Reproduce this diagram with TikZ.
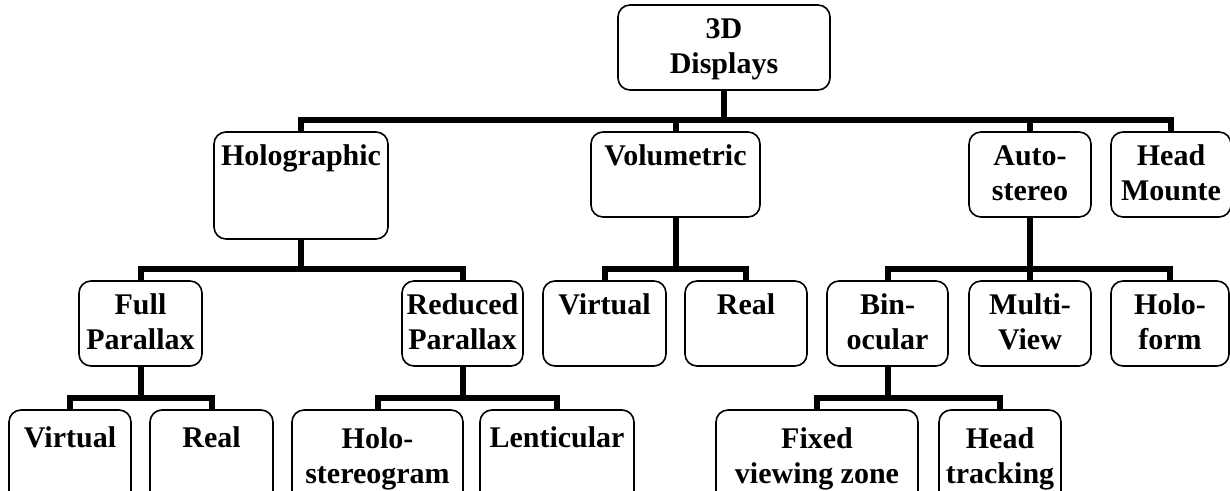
\documentclass[tikz,border=0pt]{standalone}
\usepackage{fontspec}
\setmainfont{Liberation Serif}
\tikzstyle{category}=[draw, line width=1.6pt, rounded corners=12pt, anchor=north,
  align=center, inner sep=0pt, outer sep=0pt, text height=33pt, text depth=52pt,
  font=\fontsize{30}{35}\selectfont\bfseries]
\tikzstyle{twolines}=[text height=68pt, text depth=17pt]
\tikzstyle{leaf}=[category, text height=37pt, text depth=63pt]
\tikzstyle{twoleaf}=[category, text height=73pt, text depth=27pt]
\tikzstyle{branch}=[line width=6pt]

\begin{document}
\begin{tikzpicture}[x=1pt, y=1pt]
  \useasboundingbox (0,0) rectangle (1230,-490);
  \clip (0,0) rectangle (1230,-490);
  % root and first level
  \node[category, twolines, minimum width=212pt] (displays) at (724,-5) {3D\\Displays};
  \node[category, minimum width=174pt, text depth=74pt] (holo) at (301,-132) {Holographic};
  \node[category, minimum width=169pt] (volu) at (675.5,-132) {Volumetric};
  \node[category, twolines, minimum width=122pt] (auto) at (1030,-132) {Auto-\\stereo};
  \node[category, twolines, minimum width=120pt] (hmd) at (1171,-132) {Head\\Mounte};
  % second level
  \node[category, twolines, minimum width=123pt] (full) at (140.5,-281) {Full\\Parallax};
  \node[category, twolines, minimum width=121pt] (reduced) at (462.5,-281) {Reduced\\Parallax};
  \node[category, minimum width=123pt] (vvirtual) at (604.5,-281) {Virtual};
  \node[category, minimum width=122pt] (vreal) at (746,-281) {Real};
  \node[category, twolines, minimum width=121pt] (binocular) at (887.5,-281) {Bin-\\ocular};
  \node[category, twolines, minimum width=122pt] (multiview) at (1030,-281) {Multi-\\View};
  \node[category, twolines, minimum width=118pt] (holoform) at (1170,-281) {Holo-\\form};
  % third level
  \node[leaf, minimum width=122pt] (fvirtual) at (70,-410) {Virtual};
  \node[leaf, minimum width=123pt] (freal) at (211.5,-410) {Real};
  \node[twoleaf, minimum width=171pt] (stereogram) at (377.5,-410) {Holo-\\stereogram};
  \node[leaf, minimum width=154pt] (lenticular) at (557,-410) {Lenticular};
  \node[twoleaf, minimum width=202pt] (fixed) at (817,-410) {Fixed\\viewing zone};
  \node[twoleaf, minimum width=122pt] (tracking) at (1000,-410) {Head\\tracking};

  \foreach \p/\c in {displays/holo, displays/volu, displays/auto, displays/hmd,
      holo/full, holo/reduced, volu/vvirtual, volu/vreal,
      auto/binocular, auto/multiview, auto/holoform,
      full/fvirtual, full/freal, reduced/stereogram, reduced/lenticular,
      binocular/fixed, binocular/tracking}
    \draw[branch] (\p.south) |- ([yshift=12pt]\c.north) -| (\c.north);
\end{tikzpicture}
\end{document}
